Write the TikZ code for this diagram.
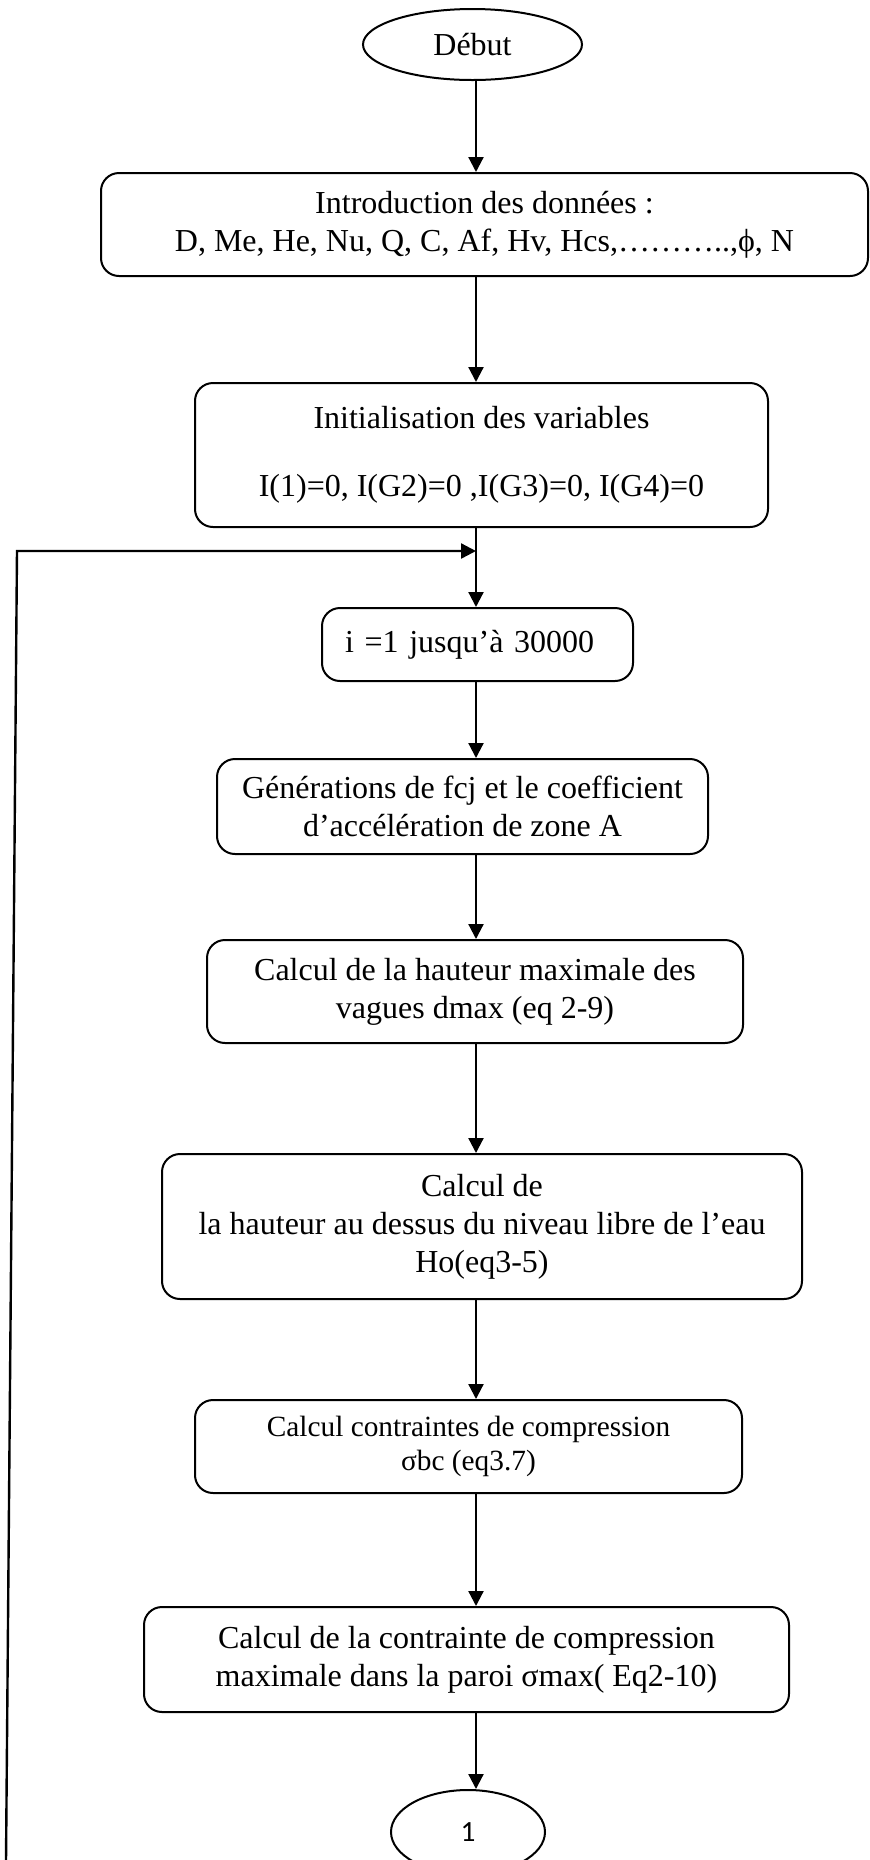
\documentclass[tikz,border=0pt]{standalone}
\usepackage{fontspec}
\setmainfont{Liberation Serif}
\newfontfamily\onefont{Carlito}
\usetikzlibrary{shapes.geometric,arrows.meta}

\begin{document}
\begin{tikzpicture}[x=0.5pt,y=-0.5pt,
  box/.style={draw,line width=1pt,rounded corners=9pt,align=center,inner sep=0pt,
    font=\fontsize{16}{19}\selectfont},
  term/.style={draw,line width=1pt,ellipse,inner sep=0pt,font=\fontsize{16}{19}\selectfont},
  arr/.style={line width=1.1pt,-{Triangle[length=7.5pt,width=7.5pt]}}]
  \useasboundingbox (0,0) rectangle (870,1860);
  \coordinate (spine) at (476,0);
  \node[term,minimum width=109.5pt,minimum height=35.5pt] (debut) at (472.5,44.5) {Début};
  \node[box,minimum width=383.5pt,minimum height=51.5pt] (intro) at (484.5,224.5)
    {Introduction des données :\\D, Me, He, Nu, Q, C, Af, Hv, Hcs,………..,ϕ, N};
  \node[box,minimum width=286.5pt,minimum height=72pt] (init) at (481.5,455)
    {Initialisation des variables\\[15pt]I(1)=0, I(G2)=0 ,I(G3)=0, I(G4)=0};
  \node[box,align=left,text width=132.5pt,inner xsep=11.5pt,minimum height=36.5pt] (loopi) at (477.5,644.5)
    {i =1 jusqu’à 30000};
  \node[box,minimum width=245.5pt,minimum height=47.5pt] (gen) at (462.5,806.5)
    {Générations de fcj et le coefficient\\d’accélération de zone A};
  \node[box,minimum width=268pt,minimum height=51.5pt] (dmax) at (475,991.5)
    {Calcul de la hauteur maximale des\\vagues dmax (eq 2-9)};
  \node[box,minimum width=320pt,minimum height=72.5pt] (ho) at (482,1226.5)
    {Calcul de\\la hauteur au dessus du niveau libre de l’eau\\Ho(eq3-5)};
  \node[box,minimum width=273.5pt,minimum height=46.5pt,font=\fontsize{14.67}{17}\selectfont] (sbc) at (468.5,1446.5)
    {Calcul contraintes de compression\\σbc (eq3.7)};
  \node[box,minimum width=322.5pt,minimum height=52.5pt] (smax) at (466.5,1659.5)
    {Calcul de la contrainte de compression\\maximale dans la paroi σmax( Eq2-10)};
  \node[term,minimum width=77pt,minimum height=42pt,font=\onefont\fontsize{14.67}{17}\selectfont] (fin) at (468,1832) {1};

  \draw[arr] (spine |- debut.south) -- (spine |- intro.north);
  \draw[arr] (spine |- intro.south) -- (spine |- init.north);
  \draw[arr] (spine |- init.south) -- (spine |- loopi.north);
  \draw[arr] (spine |- loopi.south) -- (spine |- gen.north);
  \draw[arr] (spine |- gen.south) -- (spine |- dmax.north);
  \draw[arr] (spine |- dmax.south) -- (spine |- ho.north);
  \draw[arr] (spine |- ho.south) -- (spine |- sbc.north);
  \draw[arr] (spine |- sbc.south) -- (spine |- smax.north);
  \draw[arr] (spine |- smax.south) -- (spine |- fin.north);

  \coordinate (loopjoin) at (476,551);
  \coordinate (looptop) at (17,551);
  \coordinate (loopfoot) at (6,1862);
  \draw[arr,line width=1.2pt] (loopfoot) -- (looptop) -- (loopjoin);
\end{tikzpicture}
\end{document}
